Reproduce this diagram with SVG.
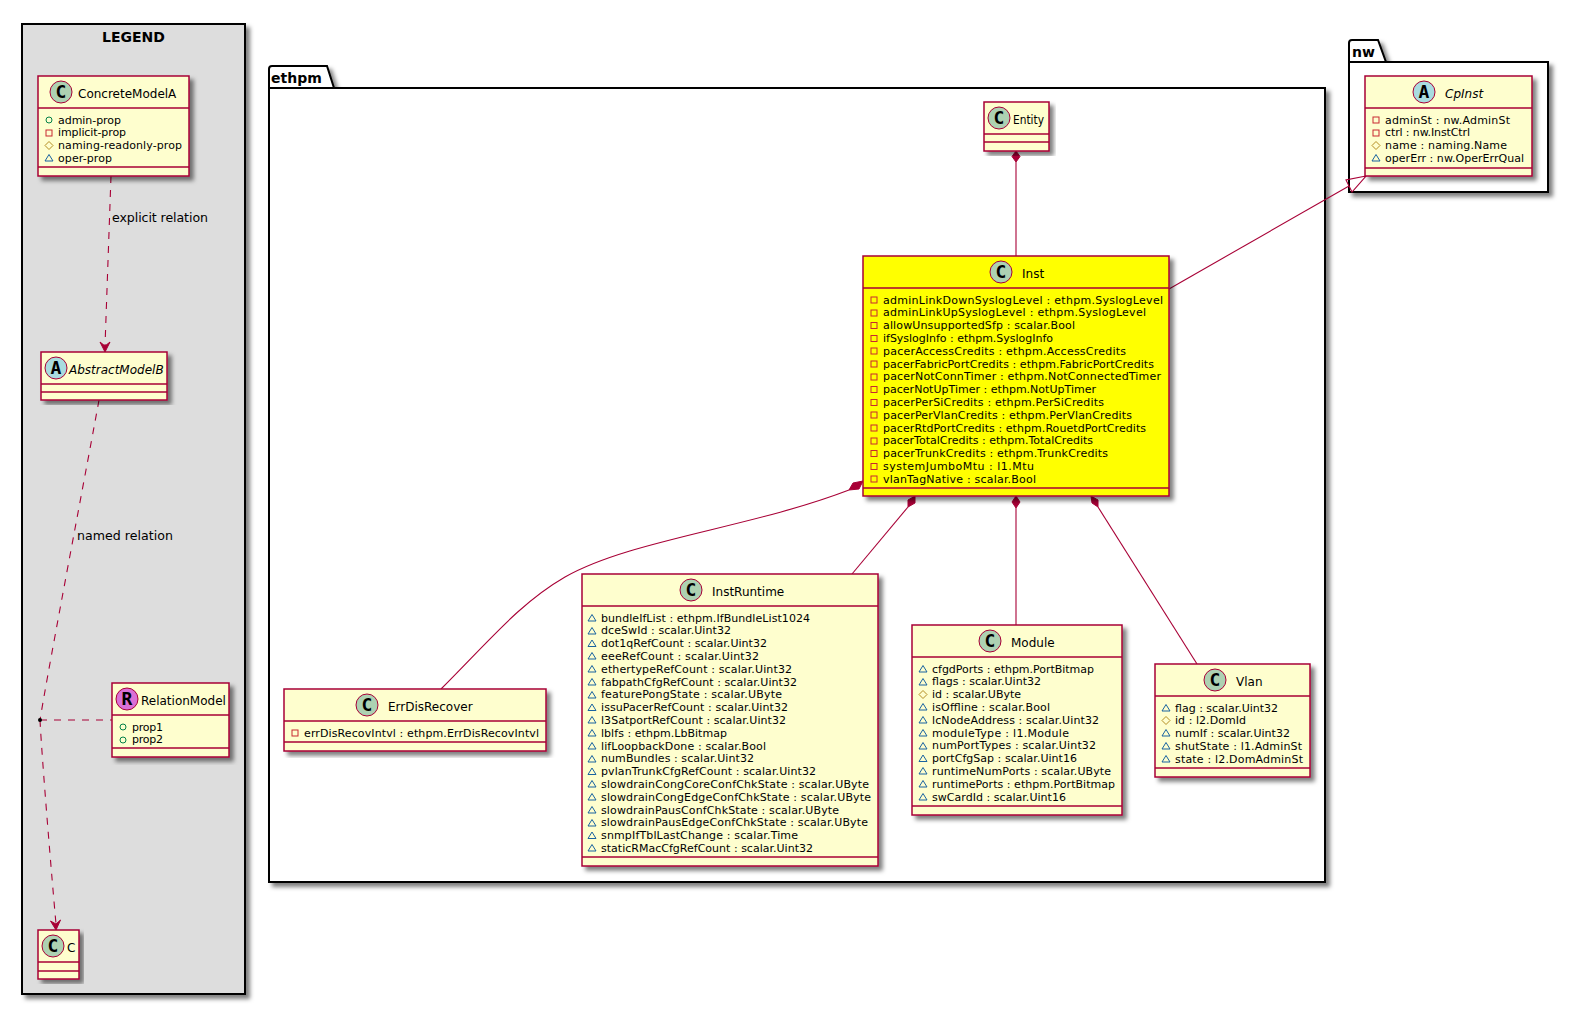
<svg xmlns="http://www.w3.org/2000/svg" width="1581" height="1020" viewBox="0 0 1581 1020">
<style>
text{font-family:"DejaVu Sans","Liberation Sans",sans-serif;fill:#000}
.box{fill:#FEFECE;stroke:#A80036;stroke-width:1.5;filter:url(#sh)}
.hot{fill:#FFFF00}
.sep{stroke:#A80036;stroke-width:1.5;fill:none}
.pk{fill:#fff;stroke:#000;stroke-width:2;filter:url(#sh)}
.pkl{fill:none;stroke:#000;stroke-width:2}
.lg{fill:#DDDDDD;stroke:#000;stroke-width:2;filter:url(#sh)}
.t{font-size:12px}
.i{font-style:italic}
.a{font-size:11px}
.l{font-size:12.600px}
.pt{font-size:14px;font-weight:bold}
.spot{stroke:#A80036;stroke-width:1}
.sc{fill:#ADD1B2}.sa{fill:#A9DCDF}.sr{fill:#DA70D6}
.g{font-family:"DejaVu Sans Mono","Liberation Mono",monospace;font-size:18px;font-weight:bold;text-anchor:middle}
.ln{fill:none;stroke:#A80036;stroke-width:1.100}
.d{stroke-dasharray:7 7}
.hd{fill:#A80036;stroke:#A80036;stroke-width:1}
</style>
<defs>
<filter id="sh" x="-5%" y="-5%" width="115%" height="115%"><feDropShadow dx="4" dy="4" stdDeviation="2" flood-color="#000" flood-opacity=".5"/></filter>
<rect id="vp" x="-3" y="-3" width="6" height="6" fill="none" stroke="#C82930"/>
<circle id="vo" r="3" fill="none" stroke="#038048"/>
<path id="vd" d="M0,-4L4,0L0,4L-4,0Z" fill="none" stroke="#B38D22"/>
<path id="vt" d="M0,-3.500L4,3L-4,3Z" fill="none" stroke="#1963A0"/>
</defs>
<rect width="1581" height="1020" fill="#fff"/>

<g id="legend"><rect class="lg" x="22" y="24" width="223" height="970"/><text class="pt" x="133.500" y="42" text-anchor="middle">LEGEND</text></g>
<g id="pkg-ethpm"><path class="pk" d="M269,88V69Q269,66 272,66H327L334,88H1325V882H269Z"/><path class="pkl" d="M269,88H334"/><text class="pt" x="271" y="83">ethpm</text></g>
<g id="pkg-nw"><path class="pk" d="M1349,62V43Q1349,40 1352,40H1378L1386,62H1548V192H1349Z"/><path class="pkl" d="M1349,62H1386"/><text class="pt" x="1352" y="57">nw</text></g>

<g id="connectors">
<path class="ln d" d="M111,176L105,346"/>
<path class="hd" d="M105,352L110,342L105,346L100,342Z"/>
<text class="l" x="112" y="222" textLength="96">explicit relation</text>
<path class="ln d" d="M99,400C90,450 48,670 40,720"/>
<text class="l" x="77" y="540" textLength="96">named relation</text>
<path class="ln d" d="M40,720C42,760 52,880 56,924"/>
<path class="hd" d="M56,930L60.500,920L56,924L50.500,921Z"/>
<path class="ln d" d="M40,720H112"/>
<circle cx="40" cy="720" r="2" fill="#000"/>
<path class="ln" d="M1016,162V256"/>
<path class="hd" d="M1016,151L1020,156.500L1016,162L1012,156.500Z"/>
<path class="ln" d="M1016,508V625"/>
<path class="hd" d="M1016,496L1020,502L1016,508L1012,502Z"/>
<path class="ln" d="M908,507L852,574"/>
<path class="hd" d="M915,496L915,503L908,507L908,500Z"/>
<path class="ln" d="M1098,507L1197,664"/>
<path class="hd" d="M1091,496L1098,500L1098,507L1092,503Z"/>
<path class="ln" d="M849,490C750,528 630,540 565,577C520,603 490,640 441,689"/>
<path class="hd" d="M863,481L859,489L849,490L853,483Z"/>
<path class="ln" d="M1169,289L1349,186"/>
<path class="ln" d="M1366,176L1346,180L1352,192Z"/>
</g>

<g id="ConcreteModelA">
<rect class="box" x="38" y="76" width="151" height="100"/>
<path class="sep" d="M38,108H189M38,167H189"/>
<circle class="spot sc" cx="61" cy="92" r="11"/><text class="g" x="61" y="98">C</text>
<text class="t" x="78" y="98">ConcreteModelA</text>
<use href="#vo" x="49" y="120"/><text class="a" x="58" y="123.500" textLength="63">admin-prop</text>
<use href="#vp" x="49" y="133"/><text class="a" x="58" y="136.300" textLength="68">implicit-prop</text>
<use href="#vd" x="49" y="145.500"/><text class="a" x="58" y="149.100" textLength="124">naming-readonly-prop</text>
<use href="#vt" x="49" y="158"/><text class="a" x="58" y="161.900" textLength="54">oper-prop</text>
</g>

<g id="AbstractModelB">
<rect class="box" x="41" y="352" width="126" height="48"/>
<path class="sep" d="M41,384H167M41,392H167"/>
<circle class="spot sa" cx="56" cy="368" r="11"/><text class="g" x="56" y="374">A</text>
<text class="t i" x="69" y="374">AbstractModelB</text>
</g>

<g id="RelationModel">
<rect class="box" x="112" y="683" width="117" height="74"/>
<path class="sep" d="M112,715H229M112,748H229"/>
<circle class="spot sr" cx="127" cy="699" r="11"/><text class="g" x="127" y="705">R</text>
<text class="t" x="141" y="705">RelationModel</text>
<use href="#vo" x="123" y="727"/><text class="a" x="132" y="730.500" textLength="31">prop1</text>
<use href="#vo" x="123" y="740"/><text class="a" x="132" y="743.300" textLength="31">prop2</text>
</g>

<g id="C">
<rect class="box" x="38" y="930" width="41" height="49"/>
<path class="sep" d="M38,962H79M38,971H79"/>
<circle class="spot sc" cx="53" cy="946" r="11"/><text class="g" x="53" y="952">C</text>
<text class="t" x="67" y="952">C</text>
</g>

<g id="CpInst">
<rect class="box" x="1365" y="76" width="167" height="100"/>
<path class="sep" d="M1365,108H1532M1365,168H1532"/>
<circle class="spot sa" cx="1424" cy="92" r="11"/><text class="g" x="1424" y="98">A</text>
<text class="t i" x="1445" y="98">CpInst</text>
<use href="#vp" x="1376" y="120"/><text class="a" x="1385" y="123.500" textLength="125">adminSt : nw.AdminSt</text>
<use href="#vp" x="1376" y="133"/><text class="a" x="1385" y="136.300" textLength="85">ctrl : nw.InstCtrl</text>
<use href="#vd" x="1376" y="145.500"/><text class="a" x="1385" y="149.100" textLength="122">name : naming.Name</text>
<use href="#vt" x="1376" y="158"/><text class="a" x="1385" y="161.900" textLength="139">operErr : nw.OperErrQual</text>
</g>

<g id="Entity">
<rect class="box" x="984" y="102" width="65" height="49"/>
<path class="sep" d="M984,134H1049M984,142H1049"/>
<circle class="spot sc" cx="999" cy="118" r="11"/><text class="g" x="999" y="124">C</text>
<text class="t" x="1013" y="124" textLength="31" lengthAdjust="spacingAndGlyphs">Entity</text>
</g>

<g id="Inst">
<rect class="box hot" x="863" y="256" width="306" height="240"/>
<path class="sep" d="M863,288H1169M863,488H1169"/>
<circle class="spot sc" cx="1001" cy="272" r="11"/><text class="g" x="1001" y="278">C</text>
<text class="t" x="1022" y="278">Inst</text>
<use href="#vp" x="874" y="300"/><text class="a" x="883" y="303.500" textLength="280">adminLinkDownSyslogLevel : ethpm.SyslogLevel</text>
<use href="#vp" x="874" y="313"/><text class="a" x="883" y="316.300" textLength="263">adminLinkUpSyslogLevel : ethpm.SyslogLevel</text>
<use href="#vp" x="874" y="325.500"/><text class="a" x="883" y="329.100" textLength="192">allowUnsupportedSfp : scalar.Bool</text>
<use href="#vp" x="874" y="338.500"/><text class="a" x="883" y="341.900" textLength="170">ifSyslogInfo : ethpm.SyslogInfo</text>
<use href="#vp" x="874" y="351"/><text class="a" x="883" y="354.700" textLength="243">pacerAccessCredits : ethpm.AccessCredits</text>
<use href="#vp" x="874" y="364"/><text class="a" x="883" y="367.500" textLength="271">pacerFabricPortCredits : ethpm.FabricPortCredits</text>
<use href="#vp" x="874" y="377"/><text class="a" x="883" y="380.300" textLength="278">pacerNotConnTimer : ethpm.NotConnectedTimer</text>
<use href="#vp" x="874" y="389.500"/><text class="a" x="883" y="393.100" textLength="213">pacerNotUpTimer : ethpm.NotUpTimer</text>
<use href="#vp" x="874" y="402.500"/><text class="a" x="883" y="405.900" textLength="221">pacerPerSiCredits : ethpm.PerSiCredits</text>
<use href="#vp" x="874" y="415"/><text class="a" x="883" y="418.700" textLength="249">pacerPerVlanCredits : ethpm.PerVlanCredits</text>
<use href="#vp" x="874" y="428"/><text class="a" x="883" y="431.500" textLength="263">pacerRtdPortCredits : ethpm.RouetdPortCredits</text>
<use href="#vp" x="874" y="441"/><text class="a" x="883" y="444.300" textLength="210">pacerTotalCredits : ethpm.TotalCredits</text>
<use href="#vp" x="874" y="453.500"/><text class="a" x="883" y="457.100" textLength="225">pacerTrunkCredits : ethpm.TrunkCredits</text>
<use href="#vp" x="874" y="466.500"/><text class="a" x="883" y="469.900" textLength="151">systemJumboMtu : l1.Mtu</text>
<use href="#vp" x="874" y="479"/><text class="a" x="883" y="482.700" textLength="153">vlanTagNative : scalar.Bool</text>
</g>

<g id="ErrDisRecover">
<rect class="box" x="284" y="689" width="262" height="62"/>
<path class="sep" d="M284,721H546M284,742H546"/>
<circle class="spot sc" cx="367" cy="705" r="11"/><text class="g" x="367" y="711">C</text>
<text class="t" x="388" y="711">ErrDisRecover</text>
<use href="#vp" x="295" y="733"/><text class="a" x="304" y="736.500" textLength="235">errDisRecovIntvl : ethpm.ErrDisRecovIntvl</text>
</g>

<g id="InstRuntime">
<rect class="box" x="582" y="574" width="296" height="292"/>
<path class="sep" d="M582,606H878M582,857H878"/>
<circle class="spot sc" cx="691" cy="590" r="11"/><text class="g" x="691" y="596">C</text>
<text class="t" x="712" y="596">InstRuntime</text>
<use href="#vt" x="592" y="618"/><text class="a" x="601" y="621.500" textLength="209">bundleIfList : ethpm.IfBundleList1024</text>
<use href="#vt" x="592" y="631"/><text class="a" x="601" y="634.300" textLength="130">dceSwId : scalar.Uint32</text>
<use href="#vt" x="592" y="643.500"/><text class="a" x="601" y="647.100" textLength="166">dot1qRefCount : scalar.Uint32</text>
<use href="#vt" x="592" y="656"/><text class="a" x="601" y="659.900" textLength="158">eeeRefCount : scalar.Uint32</text>
<use href="#vt" x="592" y="669"/><text class="a" x="601" y="672.700" textLength="191">ethertypeRefCount : scalar.Uint32</text>
<use href="#vt" x="592" y="682"/><text class="a" x="601" y="685.500" textLength="196">fabpathCfgRefCount : scalar.Uint32</text>
<use href="#vt" x="592" y="695"/><text class="a" x="601" y="698.300" textLength="181">featurePongState : scalar.UByte</text>
<use href="#vt" x="592" y="707.500"/><text class="a" x="601" y="711.100" textLength="187">issuPacerRefCount : scalar.Uint32</text>
<use href="#vt" x="592" y="720"/><text class="a" x="601" y="723.900" textLength="185">l3SatportRefCount : scalar.Uint32</text>
<use href="#vt" x="592" y="733"/><text class="a" x="601" y="736.700" textLength="126">lblfs : ethpm.LbBitmap</text>
<use href="#vt" x="592" y="746"/><text class="a" x="601" y="749.500" textLength="165">lifLoopbackDone : scalar.Bool</text>
<use href="#vt" x="592" y="759"/><text class="a" x="601" y="762.300" textLength="153">numBundles : scalar.Uint32</text>
<use href="#vt" x="592" y="771.500"/><text class="a" x="601" y="775.100" textLength="215">pvlanTrunkCfgRefCount : scalar.Uint32</text>
<use href="#vt" x="592" y="784"/><text class="a" x="601" y="787.900" textLength="268">slowdrainCongCoreConfChkState : scalar.UByte</text>
<use href="#vt" x="592" y="797"/><text class="a" x="601" y="800.700" textLength="270">slowdrainCongEdgeConfChkState : scalar.UByte</text>
<use href="#vt" x="592" y="810"/><text class="a" x="601" y="813.500" textLength="238">slowdrainPausConfChkState : scalar.UByte</text>
<use href="#vt" x="592" y="823"/><text class="a" x="601" y="826.300" textLength="267">slowdrainPausEdgeConfChkState : scalar.UByte</text>
<use href="#vt" x="592" y="835.500"/><text class="a" x="601" y="839.100" textLength="197">snmpIfTblLastChange : scalar.Time</text>
<use href="#vt" x="592" y="848"/><text class="a" x="601" y="851.900" textLength="212">staticRMacCfgRefCount : scalar.Uint32</text>
</g>

<g id="Module">
<rect class="box" x="912" y="625" width="210" height="190"/>
<path class="sep" d="M912,657H1122M912,806H1122"/>
<circle class="spot sc" cx="990" cy="641" r="11"/><text class="g" x="990" y="647">C</text>
<text class="t" x="1011" y="647">Module</text>
<use href="#vt" x="923" y="669"/><text class="a" x="932" y="672.500" textLength="162">cfgdPorts : ethpm.PortBitmap</text>
<use href="#vt" x="923" y="682"/><text class="a" x="932" y="685.300" textLength="109">flags : scalar.Uint32</text>
<use href="#vd" x="923" y="694.500"/><text class="a" x="932" y="698.100" textLength="89">id : scalar.UByte</text>
<use href="#vt" x="923" y="707"/><text class="a" x="932" y="710.900" textLength="118">isOffline : scalar.Bool</text>
<use href="#vt" x="923" y="720"/><text class="a" x="932" y="723.700" textLength="167">lcNodeAddress : scalar.Uint32</text>
<use href="#vt" x="923" y="733"/><text class="a" x="932" y="736.500" textLength="137">moduleType : l1.Module</text>
<use href="#vt" x="923" y="746"/><text class="a" x="932" y="749.300" textLength="164">numPortTypes : scalar.Uint32</text>
<use href="#vt" x="923" y="758.500"/><text class="a" x="932" y="762.100" textLength="145">portCfgSap : scalar.Uint16</text>
<use href="#vt" x="923" y="771"/><text class="a" x="932" y="774.900" textLength="179">runtimeNumPorts : scalar.UByte</text>
<use href="#vt" x="923" y="784"/><text class="a" x="932" y="787.700" textLength="183">runtimePorts : ethpm.PortBitmap</text>
<use href="#vt" x="923" y="797"/><text class="a" x="932" y="800.500" textLength="134">swCardId : scalar.Uint16</text>
</g>

<g id="Vlan">
<rect class="box" x="1155" y="664" width="155" height="113"/>
<path class="sep" d="M1155,696H1310M1155,768H1310"/>
<circle class="spot sc" cx="1215" cy="680" r="11"/><text class="g" x="1215" y="686">C</text>
<text class="t" x="1236" y="686">Vlan</text>
<use href="#vt" x="1166" y="708"/><text class="a" x="1175" y="711.500" textLength="103">flag : scalar.Uint32</text>
<use href="#vd" x="1166" y="720.500"/><text class="a" x="1175" y="724.300" textLength="71">id : l2.DomId</text>
<use href="#vt" x="1166" y="733"/><text class="a" x="1175" y="737.100" textLength="115">numIf : scalar.Uint32</text>
<use href="#vt" x="1166" y="746"/><text class="a" x="1175" y="749.900" textLength="127">shutState : l1.AdminSt</text>
<use href="#vt" x="1166" y="759"/><text class="a" x="1175" y="762.700" textLength="128">state : l2.DomAdminSt</text>
</g>
</svg>
